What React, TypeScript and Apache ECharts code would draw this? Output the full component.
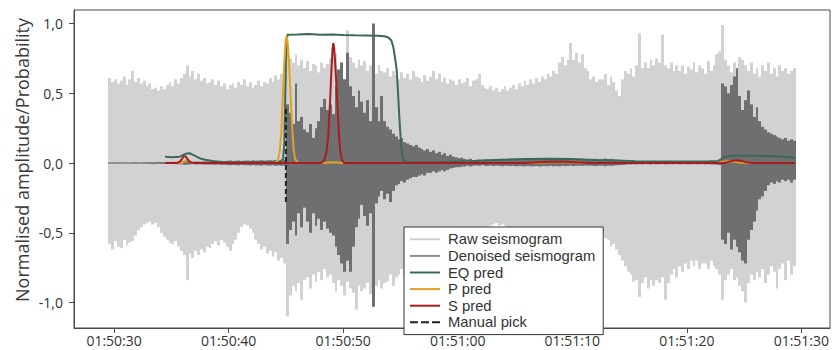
import React, { useEffect, useRef } from 'react';
import * as echarts from 'echarts';

// Time is in seconds after 01:50:00. Seismogram envelopes are sampled in 0.25 s bins.
const T0 = 29.5;
const DT = 0.25;

const RAW_UPPER = [
  0.61, 0.58, 0.60, 0.57, 0.59, 0.62, 0.56, 0.60, 0.66, 0.58, 0.61, 0.57, 0.59, 0.55, 0.57, 0.53,
  0.54, 0.52, 0.55, 0.53, 0.56, 0.58, 0.55, 0.60, 0.57, 0.61, 0.64, 0.70, 0.62, 0.66, 0.60, 0.64,
  0.59, 0.61, 0.57, 0.58, 0.60, 0.56, 0.59, 0.55, 0.57, 0.53, 0.56, 0.57, 0.54, 0.58, 0.56, 0.60,
  0.55, 0.58, 0.54, 0.56, 0.59, 0.55, 0.58, 0.57, 0.61, 0.58, 0.63, 0.60, 0.64, 0.66, 0.79, 0.75,
  0.72, 0.78, 0.70, 0.74, 0.68, 0.73, 0.66, 0.71, 0.70, 0.65, 0.72, 0.68, 0.71, 0.75, 0.82, 0.78,
  0.67, 0.72, 0.60, 0.95, 0.76, 0.72, 0.68, 0.74, 0.70, 0.73, 0.66, 0.70, 0.68, 0.64, 0.70, 0.66,
  0.65, 0.68, 0.62, 0.66, 0.63, 0.60, 0.65, 0.61, 0.64, 0.60, 0.66, 0.62, 0.61, 0.58, 0.63, 0.59,
  0.62, 0.66, 0.60, 0.64, 0.58, 0.61, 0.57, 0.60, 0.59, 0.56, 0.60, 0.57, 0.58, 0.61, 0.55, 0.59,
  0.60, 0.64, 0.56, 0.54, 0.53, 0.55, 0.52, 0.54, 0.51, 0.53, 0.55, 0.52, 0.54, 0.56, 0.53, 0.57,
  0.55, 0.59, 0.56, 0.60, 0.57, 0.61, 0.58, 0.62, 0.60, 0.64, 0.62, 0.66, 0.64, 0.72, 0.76, 0.70,
  0.74, 0.86, 0.74, 0.79, 0.72, 0.78, 0.68, 0.66, 0.60, 0.62, 0.58, 0.60, 0.60, 0.64, 0.56, 0.62,
  0.58, 0.52, 0.48, 0.60, 0.66, 0.64, 0.68, 0.62, 0.70, 0.93, 0.68, 0.72, 0.68, 0.74, 0.70, 0.75,
  0.72, 0.92, 0.70, 0.68, 0.72, 0.66, 0.70, 0.66, 0.70, 0.64, 0.69, 0.67, 0.72, 0.65, 0.70, 0.68,
  0.64, 0.73, 0.66, 0.70, 0.78, 0.80, 0.99, 0.74, 0.70, 0.65, 0.72, 0.68, 0.76, 0.74, 0.70, 0.66,
  0.72, 0.64, 0.68, 0.62, 0.70, 0.66, 0.72, 0.64, 0.68, 0.62, 0.70, 0.66, 0.68, 0.64, 0.66, 0.68,
];

const RAW_LOWER = [
  -0.58, -0.62, -0.56, -0.60, -0.61, -0.55, -0.59, -0.57, -0.56, -0.52, -0.48, -0.46, -0.44, -0.43, -0.42, -0.44,
  -0.43, -0.46, -0.50, -0.53, -0.55, -0.57, -0.58, -0.56, -0.60, -0.63, -0.66, -0.84, -0.65, -0.68, -0.63, -0.66,
  -0.62, -0.64, -0.60, -0.61, -0.58, -0.56, -0.59, -0.55, -0.57, -0.60, -0.63, -0.58, -0.55, -0.50, -0.46, -0.44,
  -0.45, -0.47, -0.50, -0.55, -0.58, -0.62, -0.60, -0.65, -0.63, -0.67, -0.64, -0.70, -0.68, -0.72, -1.10, -0.95,
  -0.88, -0.92, -0.86, -0.98, -0.84, -0.82, -0.90, -0.80, -0.85, -0.78, -0.84, -0.76, -0.82, -0.80, -0.86, -0.92,
  -0.84, -0.88, -0.95, -0.85, -0.90, -0.93, -1.05, -0.88, -0.92, -0.90, -0.86, -0.94, -1.03, -0.88, -0.84, -0.90,
  -0.86, -0.85, -0.80, -0.88, -0.82, -0.80, -0.76, -0.82, -0.74, -0.72, -0.70, -0.68, -0.66, -0.65, -0.62, -0.64,
  -0.60, -0.62, -0.58, -0.60, -0.56, -0.58, -0.55, -0.57, -0.54, -0.55, -0.52, -0.56, -0.53, -0.52, -0.50, -0.53,
  -0.49, -0.50, -0.48, -0.47, -0.46, -0.45, -0.44, -0.43, -0.45, -0.44, -0.45, -0.47, -0.48, -0.50, -0.52, -0.51,
  -0.54, -0.55, -0.57, -0.56, -0.58, -0.58, -0.60, -0.57, -0.60, -0.60, -0.62, -0.59, -0.61, -0.62, -0.60, -0.63,
  -0.61, -0.60, -0.62, -0.60, -0.62, -0.62, -0.60, -0.63, -0.61, -0.58, -0.56, -0.52, -0.50, -0.54, -0.55, -0.60,
  -0.58, -0.62, -0.66, -0.70, -0.74, -0.78, -0.80, -0.85, -0.84, -0.96, -0.86, -0.82, -0.90, -0.84, -0.88, -0.84,
  -0.86, -0.82, -0.98, -0.86, -0.80, -0.76, -0.82, -0.74, -0.78, -0.72, -0.76, -0.70, -0.74, -0.70, -0.76, -0.72,
  -0.72, -0.76, -0.70, -0.74, -0.76, -0.80, -0.98, -0.84, -0.80, -0.76, -0.84, -0.82, -0.88, -0.92, -1.00, -0.86,
  -0.80, -0.84, -0.78, -0.82, -0.76, -0.86, -0.80, -0.74, -0.78, -0.90, -0.76, -0.72, -0.84, -0.70, -0.80, -0.74,
];

const DEN_UPPER = [
  0.004, 0.005, 0.003, 0.004, 0.005, 0.004, 0.006, 0.004, 0.005, 0.006, 0.004, 0.005, 0.006, 0.005, 0.007, 0.005,
  0.006, 0.008, 0.006, 0.007, 0.008, 0.007, 0.009, 0.008, 0.010, 0.012, 0.015, 0.012, 0.010, 0.009, 0.011, 0.010,
  0.010, 0.012, 0.011, 0.013, 0.012, 0.014, 0.013, 0.015, 0.014, 0.016, 0.018, 0.015, 0.016, 0.018, 0.015, 0.017,
  0.018, 0.016, 0.019, 0.017, 0.018, 0.020, 0.017, 0.019, 0.020, 0.018, 0.021, 0.019, 0.020, 0.022, 0.42, 0.36,
  0.28, 0.57, 0.30, 0.33, 0.24, 0.22, 0.28, 0.18, 0.25, 0.30, 0.40, 0.46, 0.38, 0.42, 0.35, 0.55,
  0.67, 0.72, 0.60, 0.79, 0.55, 0.48, 0.40, 0.52, 0.44, 0.36, 0.45, 0.30, 1.00, 0.40, 0.30, 0.48,
  0.30, 0.26, 0.24, 0.21, 0.19, 0.17, 0.18, 0.15, 0.14, 0.13, 0.12, 0.13, 0.11, 0.10, 0.09, 0.10,
  0.08, 0.09, 0.07, 0.08, 0.06, 0.07, 0.05, 0.06, 0.045, 0.040, 0.035, 0.040, 0.030, 0.025, 0.030, 0.020,
  0.022, 0.025, 0.020, 0.024, 0.026, 0.022, 0.028, 0.024, 0.025, 0.030, 0.026, 0.028, 0.030, 0.027, 0.032, 0.028,
  0.030, 0.034, 0.029, 0.032, 0.032, 0.028, 0.034, 0.030, 0.030, 0.033, 0.028, 0.031, 0.028, 0.032, 0.027, 0.030,
  0.029, 0.026, 0.030, 0.027, 0.026, 0.028, 0.024, 0.027, 0.025, 0.028, 0.030, 0.026, 0.028, 0.032, 0.027, 0.030,
  0.026, 0.024, 0.020, 0.018, 0.015, 0.012, 0.014, 0.011, 0.012, 0.010, 0.011, 0.010, 0.010, 0.012, 0.010, 0.011,
  0.011, 0.010, 0.012, 0.010, 0.010, 0.011, 0.010, 0.012, 0.011, 0.010, 0.012, 0.011, 0.010, 0.012, 0.011, 0.010,
  0.012, 0.011, 0.013, 0.012, 0.012, 0.015, 0.57, 0.55, 0.50, 0.56, 0.62, 0.68, 0.48, 0.38, 0.45, 0.52,
  0.42, 0.33, 0.40, 0.30, 0.26, 0.24, 0.22, 0.21, 0.20, 0.19, 0.18, 0.17, 0.18, 0.16, 0.17, 0.16,
];

const DEN_LOWER = [
  -0.004, -0.003, -0.005, -0.004, -0.004, -0.005, -0.003, -0.005, -0.004, -0.005, -0.006, -0.004, -0.005, -0.006, -0.005, -0.007,
  -0.006, -0.005, -0.007, -0.006, -0.007, -0.008, -0.006, -0.008, -0.009, -0.011, -0.014, -0.012, -0.010, -0.008, -0.010, -0.009,
  -0.010, -0.011, -0.012, -0.010, -0.012, -0.013, -0.011, -0.014, -0.013, -0.015, -0.016, -0.014, -0.015, -0.017, -0.014, -0.016,
  -0.016, -0.018, -0.015, -0.017, -0.017, -0.019, -0.016, -0.018, -0.019, -0.017, -0.020, -0.018, -0.020, -0.018, -0.58, -0.48,
  -0.42, -0.52, -0.36, -0.46, -0.32, -0.42, -0.50, -0.36, -0.45, -0.40, -0.48, -0.42, -0.47, -0.50, -0.52, -0.60,
  -0.66, -0.72, -0.78, -0.70, -0.78, -0.60, -0.46, -0.40, -0.30, -0.38, -0.45, -0.36, -1.03, -0.29, -0.24, -0.20,
  -0.26, -0.22, -0.28, -0.20, -0.16, -0.15, -0.13, -0.14, -0.12, -0.11, -0.10, -0.10, -0.09, -0.08, -0.09, -0.07,
  -0.07, -0.06, -0.07, -0.06, -0.05, -0.06, -0.05, -0.04, -0.035, -0.030, -0.030, -0.025, -0.025, -0.020, -0.025, -0.020,
  -0.018, -0.020, -0.016, -0.019, -0.021, -0.018, -0.022, -0.019, -0.020, -0.023, -0.019, -0.021, -0.022, -0.020, -0.024, -0.021,
  -0.023, -0.025, -0.021, -0.024, -0.024, -0.021, -0.025, -0.022, -0.022, -0.024, -0.020, -0.023, -0.021, -0.024, -0.020, -0.022,
  -0.021, -0.019, -0.022, -0.020, -0.019, -0.021, -0.018, -0.020, -0.019, -0.021, -0.022, -0.019, -0.020, -0.023, -0.019, -0.021,
  -0.019, -0.017, -0.015, -0.014, -0.012, -0.010, -0.011, -0.009, -0.010, -0.009, -0.010, -0.008, -0.009, -0.010, -0.008, -0.009,
  -0.009, -0.008, -0.010, -0.009, -0.008, -0.009, -0.008, -0.010, -0.009, -0.008, -0.010, -0.009, -0.008, -0.010, -0.009, -0.008,
  -0.010, -0.009, -0.011, -0.010, -0.012, -0.015, -0.55, -0.58, -0.50, -0.62, -0.55, -0.60, -0.64, -0.70, -0.72, -0.55,
  -0.48, -0.42, -0.34, -0.26, -0.24, -0.20, -0.16, -0.14, -0.15, -0.13, -0.14, -0.12, -0.13, -0.12, -0.14, -0.12,
];

// Model probabilities: [time (s after 01:50:00), probability]
const EQ_PRED = [
  [34.45, 0.045], [35.0, 0.042], [35.75, 0.045], [36.1, 0.06], [36.35, 0.068], [36.6, 0.07], [36.8, 0.062],
  [37.2, 0.045], [37.6, 0.03], [37.95, 0.023], [38.6, 0.014], [39.4, 0.007], [40.5, 0.005], [42.0, 0.006],
  [43.5, 0.006], [44.5, 0.008], [44.75, 0.03], [44.85, 0.12], [44.93, 0.4], [45.0, 0.72], [45.07, 0.88],
  [45.15, 0.92], [46.0, 0.922], [47.0, 0.925], [48.0, 0.92], [49.0, 0.922], [50.0, 0.918], [51.0, 0.915],
  [52.0, 0.914], [53.0, 0.912], [53.6, 0.908], [53.95, 0.9], [54.2, 0.88], [54.38, 0.83], [54.55, 0.74],
  [54.67, 0.67], [54.77, 0.53], [54.87, 0.38], [54.96, 0.25], [55.05, 0.14], [55.15, 0.06], [55.25, 0.02],
  [55.55, 0.005], [57.0, 0.006], [59.0, 0.008], [61.0, 0.012], [62.5, 0.02], [64.0, 0.024], [66.0, 0.028],
  [68.0, 0.03], [70.0, 0.028], [72.0, 0.022], [74.0, 0.018], [75.5, 0.012], [78.0, 0.01], [80.0, 0.01],
  [82.0, 0.012], [82.75, 0.015], [83.0, 0.028], [83.33, 0.045], [84.2, 0.052], [85.5, 0.053], [87.1, 0.05],
  [88.3, 0.044], [89.45, 0.038],
];

const P_PRED = [
  [34.45, 0], [35.9, 0], [36.1, 0.008], [36.25, 0.018], [36.35, 0.023], [36.5, 0.018], [36.65, 0.007],
  [36.85, 0], [44.1, 0], [44.3, 0.02], [44.45, 0.08], [44.6, 0.22], [44.72, 0.45], [44.85, 0.7],
  [44.97, 0.87], [45.06, 0.91], [45.15, 0.87], [45.27, 0.72], [45.42, 0.46], [45.55, 0.25], [45.67, 0.1],
  [45.8, 0.03], [46.0, 0.006], [46.2, 0], [48.3, 0], [48.7, 0.004], [49.1, 0.006], [49.5, 0.004], [49.9, 0],
  [67.0, 0], [68.0, 0.006], [69.0, 0.008], [70.0, 0.004], [71.0, 0], [82.6, 0], [83.0, 0.008], [83.5, 0.012],
  [84.0, 0.01], [84.6, 0.004], [85.2, 0], [89.45, 0],
];

const S_PRED = [
  [34.45, 0], [35.5, 0], [35.7, 0.008], [35.9, 0.025], [36.05, 0.045], [36.13, 0.05], [36.25, 0.045],
  [36.45, 0.025], [36.6, 0.01], [36.8, 0.002], [37.0, 0], [48.1, 0], [48.35, 0.02], [48.55, 0.08],
  [48.7, 0.2], [48.85, 0.43], [48.97, 0.66], [49.07, 0.82], [49.14, 0.86], [49.22, 0.82], [49.33, 0.68],
  [49.49, 0.43], [49.62, 0.22], [49.75, 0.08], [49.9, 0.02], [50.1, 0], [66.0, 0], [67.5, 0.008], [69.0, 0.01],
  [70.5, 0.004], [71.5, 0], [83.3, 0], [83.7, 0.01], [84.1, 0.018], [84.4, 0.02], [84.8, 0.015], [85.2, 0.006],
  [85.7, 0], [89.45, 0],
];

const MANUAL_PICK_T = 45.0;
const MANUAL_PICK_RANGE = [-0.28, 0.4];

const X_TICKS = [30, 40, 50, 60, 70, 80, 90];
const X_TICK_LABELS = ['01:50:30', '01:50:40', '01:50:50', '01:51:00', '01:51:10', '01:51:20', '01:51:30'];
const Y_TICKS = [-1, -0.5, 0, 0.5, 1];
const Y_TICK_LABELS = ['-1,0', '-0,5', '0,0', '0,5', '1,0'];

const SERIES_NAMES = ['Raw seismogram', 'Denoised seismogram', 'EQ pred', 'P pred', 'S pred', 'Manual pick'];

const FONT = "'Open Sans', 'Noto Sans', sans-serif";
const LEGEND_FONT = "'Liberation Sans', Arial, sans-serif";
const C_RAW = '#d2d2d4';
const C_DEN = '#6f6f72';
const C_EQ = '#3a6a57';
const C_P = '#e3a024';
const C_S = '#a81e1e';
const C_PICK = '#222222';

function envelopeData(lower: number[], upper: number[]) {
  return lower.map((lo, i) => [T0 + i * DT, lo, upper[i]]);
}

function envelopeRenderer(color: string) {
  return (params: any, api: any) => {
    const t = api.value(0);
    const lo = api.value(1);
    const hi = api.value(2);
    const pTop = api.coord([t, hi]);
    const pBot = api.coord([t + DT, lo]);
    const x0 = Math.round(pTop[0]);
    const x1 = Math.round(pBot[0]);
    let y = pTop[1];
    let h = pBot[1] - pTop[1];
    if (h < 1.3) {
      y = (pTop[1] + pBot[1]) / 2 - 0.65;
      h = 1.3;
    }
    return {
      type: 'rect',
      shape: { x: x0, y, width: Math.max(1, x1 - x0), height: h },
      style: { fill: color },
    };
  };
}

export default function App() {
  const ref = useRef<HTMLDivElement>(null);

  useEffect(() => {
    if (!ref.current) return;
    const chart = echarts.init(ref.current, undefined, { renderer: 'svg' });
    const option: any = {
      animation: false,
      backgroundColor: '#ffffff',
      textStyle: { fontFamily: FONT },
      grid: {
        left: 74,
        right: 4,
        top: 10,
        bottom: 22,
        show: true,
        borderColor: '#4a4a4a',
        borderWidth: 1,
        backgroundColor: 'transparent',
      },
      xAxis: {
        type: 'value',
        min: 26.5,
        max: 92.5,
        splitLine: { show: false },
        axisLine: { show: true, onZero: false, lineStyle: { color: '#4a4a4a', width: 1 } },
        axisTick: { show: true, customValues: X_TICKS, length: 5, lineStyle: { color: '#4a4a4a' } },
        axisLabel: {
          customValues: X_TICKS,
          formatter: (v: number) => X_TICK_LABELS[X_TICKS.indexOf(v)] ?? '',
          margin: 5,
          fontSize: 14,
          color: '#333',
          fontFamily: FONT,
        },
      },
      yAxis: {
        type: 'value',
        min: -1.1828,
        max: 1.0968,
        splitLine: { show: false },
        axisLine: { show: true, onZero: false, lineStyle: { color: '#4a4a4a', width: 1 } },
        axisTick: { show: true, customValues: Y_TICKS, length: 5, lineStyle: { color: '#4a4a4a' } },
        axisLabel: {
          customValues: Y_TICKS,
          formatter: (v: number) => {
            const i = Y_TICKS.findIndex((t) => Math.abs(t - v) < 1e-9);
            return i >= 0 ? Y_TICK_LABELS[i] : '';
          },
          margin: 11,
          fontSize: 14,
          color: '#333',
          fontFamily: FONT,
        },
      },
      legend: {
        show: true,
        orient: 'vertical',
        left: 404,
        top: 227,
        padding: [4, 8, 4, 6],
        itemGap: 0,
        itemWidth: 30,
        itemHeight: 2,
        backgroundColor: '#ffffff',
        borderColor: '#333333',
        borderWidth: 1,
        borderRadius: 0,
        selectedMode: false,
        textStyle: { fontFamily: LEGEND_FONT, fontSize: 14.8, color: '#333', lineHeight: 16.6, padding: [0, 0, 0, 3] },
        data: [
          { name: SERIES_NAMES[0], icon: 'rect', itemStyle: { color: '#cfcfd1' } },
          { name: SERIES_NAMES[1], icon: 'rect', itemStyle: { color: '#8e8e91' } },
          { name: SERIES_NAMES[2], icon: 'rect', itemStyle: { color: C_EQ } },
          { name: SERIES_NAMES[3], icon: 'rect', itemStyle: { color: C_P } },
          { name: SERIES_NAMES[4], icon: 'rect', itemStyle: { color: C_S } },
          {
            name: SERIES_NAMES[5],
            icon: 'path://M0,0h8v2h-8zM11,0h8v2h-8zM22,0h8v2h-8z',
            itemStyle: { color: C_PICK },
          },
        ],
      },
      graphic: [
        {
          type: 'text',
          x: 22,
          y: 160,
          rotation: Math.PI / 2,
          style: {
            text: 'Normalised amplitude/Probability',
            font: `18px ${FONT}`,
            fill: '#3a3a3a',
            textAlign: 'center',
            textVerticalAlign: 'middle',
          },
        },
      ],
      series: [
        {
          name: SERIES_NAMES[0],
          type: 'custom',
          renderItem: envelopeRenderer(C_RAW),
          data: envelopeData(RAW_LOWER, RAW_UPPER),
          encode: { x: 0, y: [1, 2] },
          itemStyle: { color: C_RAW },
          clip: true,
          z: 1,
        },
        {
          name: SERIES_NAMES[1],
          type: 'custom',
          renderItem: envelopeRenderer(C_DEN),
          data: envelopeData(DEN_LOWER, DEN_UPPER),
          encode: { x: 0, y: [1, 2] },
          itemStyle: { color: C_DEN },
          clip: true,
          z: 2,
        },
        {
          name: SERIES_NAMES[2],
          type: 'line',
          data: EQ_PRED,
          showSymbol: false,
          symbol: 'none',
          lineStyle: { color: C_EQ, width: 2 },
          itemStyle: { color: C_EQ },
          z: 3,
        },
        {
          name: SERIES_NAMES[3],
          type: 'line',
          data: P_PRED,
          showSymbol: false,
          symbol: 'none',
          lineStyle: { color: C_P, width: 2 },
          itemStyle: { color: C_P },
          z: 4,
        },
        {
          name: SERIES_NAMES[4],
          type: 'line',
          data: S_PRED,
          showSymbol: false,
          symbol: 'none',
          lineStyle: { color: C_S, width: 2 },
          itemStyle: { color: C_S },
          z: 5,
        },
        {
          name: SERIES_NAMES[5],
          type: 'line',
          data: MANUAL_PICK_RANGE.map((v) => [MANUAL_PICK_T, v]),
          showSymbol: false,
          symbol: 'none',
          lineStyle: { color: C_PICK, width: 2, type: [5, 3] },
          itemStyle: { color: C_PICK },
          z: 6,
        },
      ],
    };
    chart.setOption(option);
    return () => chart.dispose();
  }, []);

  return (
    <div
      ref={ref}
      style={{ position: 'absolute', left: 0, top: 0, width: 834, height: 350 }}
    />
  );
}
